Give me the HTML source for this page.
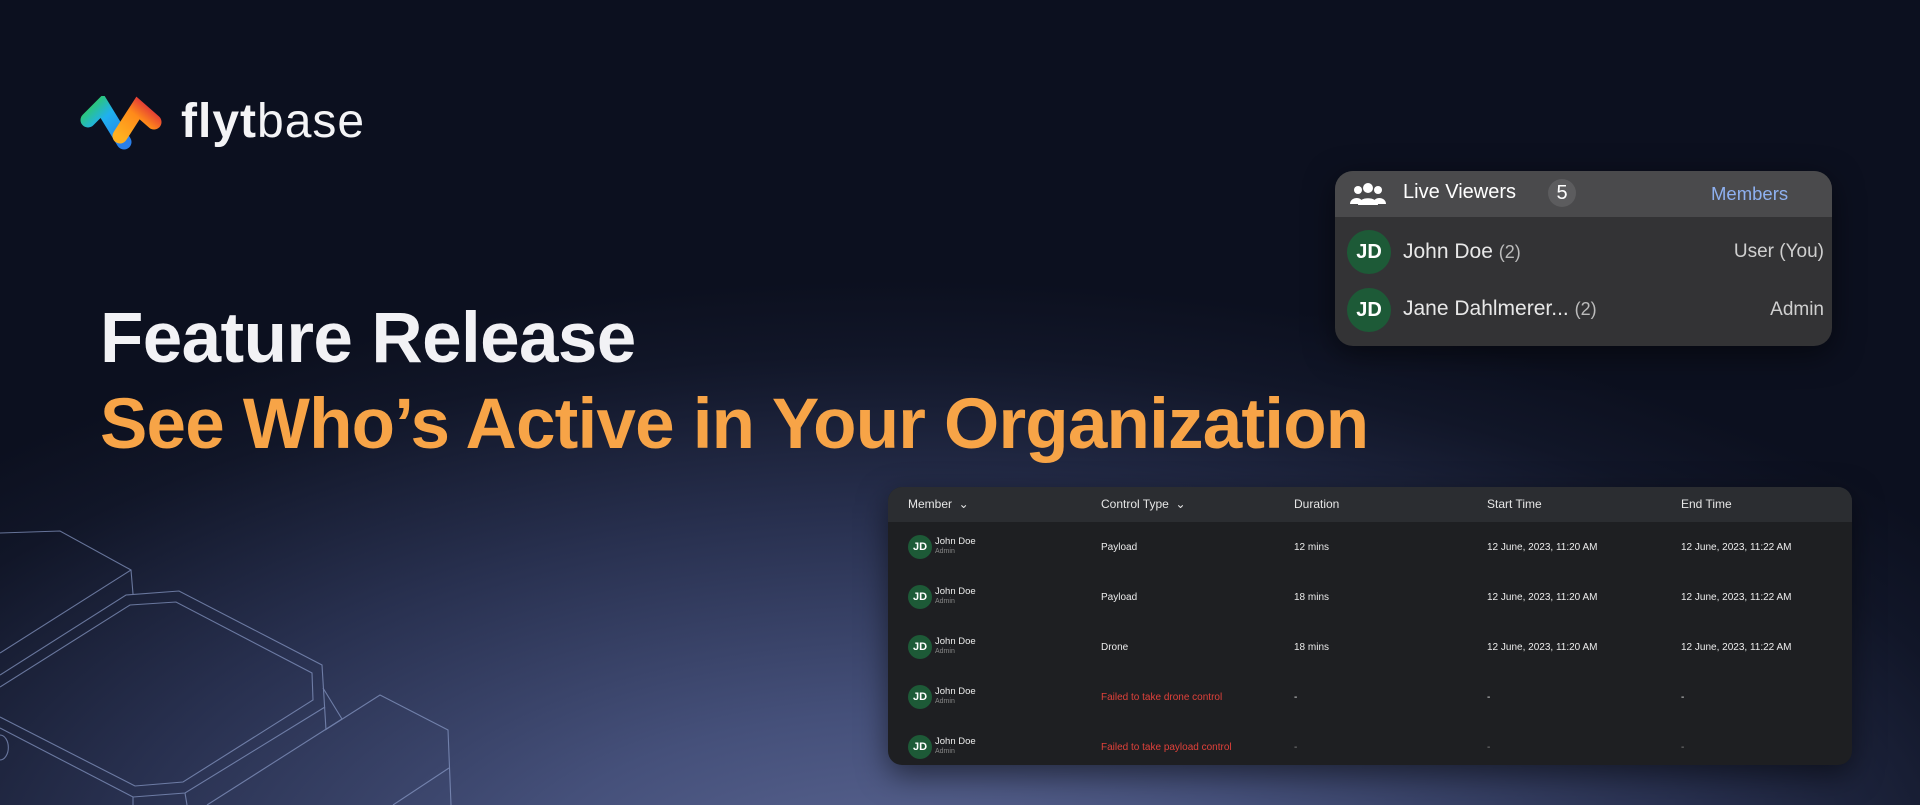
<!DOCTYPE html>
<html><head><meta charset="utf-8"><style>
*{margin:0;padding:0;box-sizing:border-box}
body{width:1920px;height:805px;overflow:hidden;position:relative;font-family:"Liberation Sans",sans-serif;
background:radial-gradient(ellipse 1300px 620px at 900px 900px,#5d6895 0%,#45507a 30%,#28304f 62%,#111628 88%,#0c101f 100%);}
.abs{position:absolute}
.t1{left:100px;top:298px;font-size:71px;font-weight:bold;color:#f2f2f5;letter-spacing:-0.6px;white-space:nowrap}
.t2{left:100px;top:384px;font-size:71px;font-weight:bold;color:#f7a447;letter-spacing:-0.8px;white-space:nowrap}
.card{left:1335px;top:171px;width:497px;height:175px;background:#333335;border-radius:18px;overflow:hidden;box-shadow:0 8px 30px rgba(0,0,0,.5)}
.ch{height:46px;background:#4a4a4c;position:relative}
.av{position:absolute;border-radius:50%;background:#1d5a37;color:#fff;font-weight:bold;display:flex;align-items:center;justify-content:center}
.tbl{left:888px;top:487px;width:964px;height:278px;background:#1e1f22;border-radius:14px;overflow:hidden;box-shadow:0 10px 30px rgba(0,0,0,.5)}
.th{height:35px;background:#2b2d31;position:relative;color:#e6e6e6;font-size:12px}
.th span,.row span{position:absolute}
.row{position:absolute;left:0;width:964px;height:50px;font-size:10px;color:#ececec}
.red{color:#e0413a}
</style></head><body>
<svg class="abs" style="left:0;top:0" width="1920" height="805">
<g fill="none" stroke="#8a9bc8" stroke-width="1.1" opacity=".7">
<polyline points="0,533 60,531 131,570 133,594"/>
<polyline points="131,570 0,653"/>
<polyline points="0,675 126,595 179,591 322,665 326,730"/>
<polyline points="0,687 130,605 176,602 312,673 313,700 183,782 135,786 0,717"/>
<polyline points="0,728 133,797 185,793 325,707"/>
<polyline points="323,688 342,719"/>
<polyline points="325,730 380,695 448,730 451,805"/>
<polyline points="449,768 393,805"/>
<polyline points="185,793 187,805"/>
<polyline points="133,797 133,805"/>
<polyline points="342,719 207,805"/>
<path d="M0,735 A8,12 0 0 1 0,760"/>
</g></svg>

<svg class="abs" style="left:80px;top:96px" width="84" height="56" viewBox="0 0 84 56">
<defs><linearGradient id="g1" x1="0" y1="0" x2="1" y2="1"><stop offset="0" stop-color="#2ec96a"/><stop offset=".4" stop-color="#1fb0f0"/><stop offset="1" stop-color="#2a7fe8"/></linearGradient>
<linearGradient id="g2" x1="0" y1="1" x2="1" y2="0"><stop offset="0" stop-color="#ffb020"/><stop offset=".6" stop-color="#ff8a1a"/><stop offset="1" stop-color="#e0303a"/></linearGradient></defs>
<path d="M8,24 L22,10 L44,46" stroke="url(#g1)" stroke-width="15" stroke-linecap="round" fill="none"/>
<path d="M40,40 L58,12 L74,26" stroke="url(#g2)" stroke-width="15" stroke-linecap="round" fill="none"/>
</svg>
<div class="abs" style="left:181px;top:94px;font-size:48px;color:#f4f4f6;letter-spacing:1px"><b>flyt</b>base</div>

<div class="abs t1">Feature Release</div>
<div class="abs t2">See Who’s Active in Your Organization</div>

<div class="abs card">
<div class="ch">
<svg class="abs" style="left:15px;top:10px" width="36" height="26" viewBox="0 0 36 26" fill="#fff">
<circle cx="18" cy="7" r="5"/><path d="M8,24 C8,15 28,15 28,24Z"/>
<circle cx="8" cy="9" r="4"/><path d="M0,23 C0,15 14,15 12,23Z"/>
<circle cx="28" cy="9" r="4"/><path d="M24,23 C22,15 36,15 36,23Z"/></svg>
<span class="abs" style="left:68px;top:10px;font-size:20px;color:#fff">Live Viewers</span>
<span class="abs" style="left:213px;top:8px;width:28px;height:28px;border-radius:50%;background:#5c5c5e;color:#fff;font-size:20px;text-align:center;line-height:28px">5</span>
<span class="abs" style="left:376px;top:12px;font-size:18.5px;color:#8eb0f0">Members</span>
</div>
<div class="av" style="left:12px;top:59px;width:44px;height:44px;font-size:20px">JD</div>
<span class="abs" style="left:68px;top:69px;font-size:21px;color:#e8e8e8">John Doe <span style="font-size:18px;color:#bbb;position:static">(2)</span></span>
<span class="abs" style="right:8px;top:70px;font-size:19px;color:#cfcfcf">User (You)</span>
<div class="av" style="left:12px;top:117px;width:44px;height:44px;font-size:20px">JD</div>
<span class="abs" style="left:68px;top:126px;font-size:21px;color:#e8e8e8">Jane Dahlmerer... <span style="font-size:18px;color:#bbb;position:static">(2)</span></span>
<span class="abs" style="right:8px;top:128px;font-size:19px;color:#cfcfcf">Admin</span>
</div>

<div class="abs tbl">
<div class="th">
<span style="left:20px;top:10px">Member &nbsp;⌄</span>
<span style="left:213px;top:10px">Control Type &nbsp;⌄</span>
<span style="left:406px;top:10px">Duration</span>
<span style="left:599px;top:10px">Start Time</span>
<span style="left:793px;top:10px">End Time</span>
</div>
<div class="row" style="top:35px"><div class="av" style="left:20px;top:13px;width:24px;height:24px;font-size:11px">JD</div><span style="left:47px;top:14px;font-size:9.5px">John Doe</span><span style="left:47px;top:26px;font-size:7px;color:#888">Admin</span><span style="left:213px;top:20px">Payload</span><span style="left:406px;top:20px">12 mins</span><span style="left:599px;top:20px">12 June, 2023, 11:20 AM</span><span style="left:793px;top:20px">12 June, 2023, 11:22 AM</span></div>
<div class="row" style="top:85px"><div class="av" style="left:20px;top:13px;width:24px;height:24px;font-size:11px">JD</div><span style="left:47px;top:14px;font-size:9.5px">John Doe</span><span style="left:47px;top:26px;font-size:7px;color:#888">Admin</span><span style="left:213px;top:20px">Payload</span><span style="left:406px;top:20px">18 mins</span><span style="left:599px;top:20px">12 June, 2023, 11:20 AM</span><span style="left:793px;top:20px">12 June, 2023, 11:22 AM</span></div>
<div class="row" style="top:135px"><div class="av" style="left:20px;top:13px;width:24px;height:24px;font-size:11px">JD</div><span style="left:47px;top:14px;font-size:9.5px">John Doe</span><span style="left:47px;top:26px;font-size:7px;color:#888">Admin</span><span style="left:213px;top:20px">Drone</span><span style="left:406px;top:20px">18 mins</span><span style="left:599px;top:20px">12 June, 2023, 11:20 AM</span><span style="left:793px;top:20px">12 June, 2023, 11:22 AM</span></div>
<div class="row" style="top:185px"><div class="av" style="left:20px;top:13px;width:24px;height:24px;font-size:11px">JD</div><span style="left:47px;top:14px;font-size:9.5px">John Doe</span><span style="left:47px;top:26px;font-size:7px;color:#888">Admin</span><span class="red" style="left:213px;top:20px">Failed to take drone control</span><span style="left:406px;top:20px">-</span><span style="left:599px;top:20px">-</span><span style="left:793px;top:20px">-</span></div>
<div class="row" style="top:235px"><div class="av" style="left:20px;top:13px;width:24px;height:24px;font-size:11px">JD</div><span style="left:47px;top:14px;font-size:9.5px">John Doe</span><span style="left:47px;top:26px;font-size:7px;color:#888">Admin</span><span class="red" style="left:213px;top:20px">Failed to take payload control</span><span style="left:406px;top:20px;color:#888">-</span><span style="left:599px;top:20px;color:#888">-</span><span style="left:793px;top:20px;color:#888">-</span></div>
</div>
</body></html>
